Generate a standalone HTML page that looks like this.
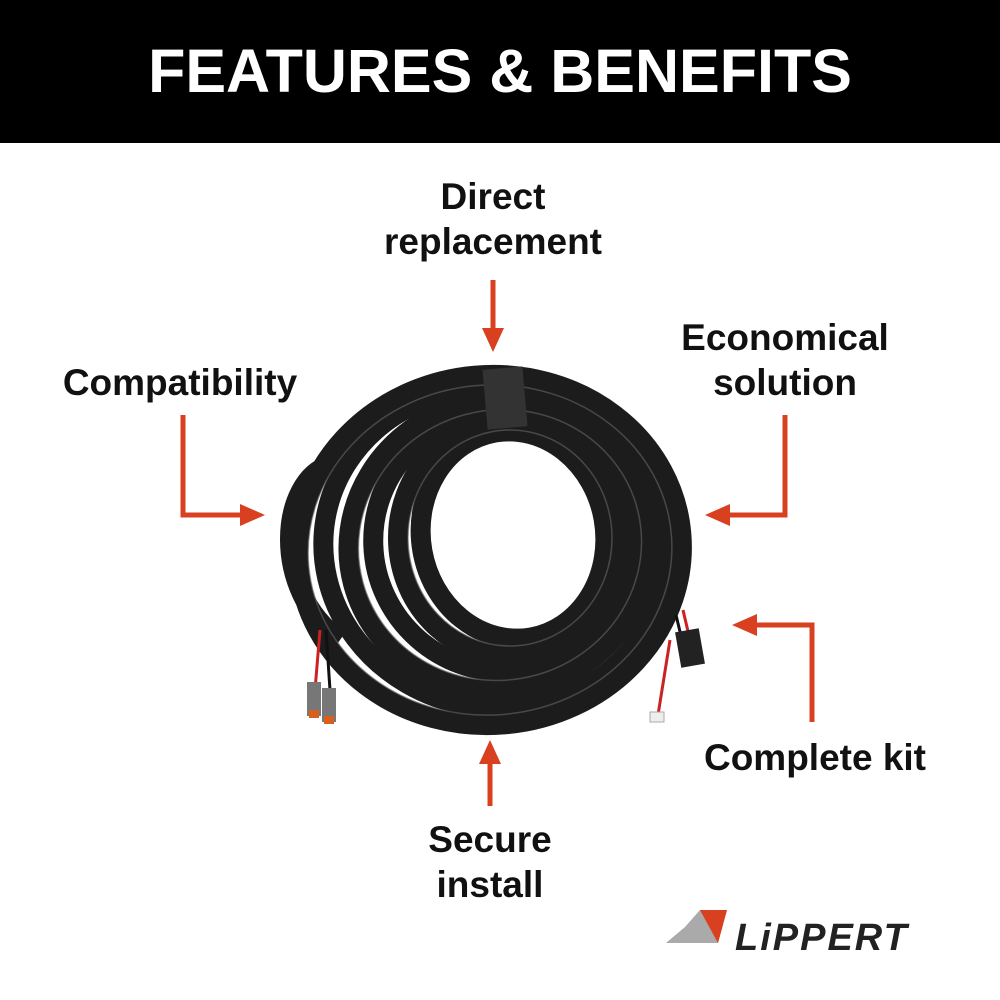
<!DOCTYPE html>
<html><head><meta charset="utf-8"><style>
body{margin:0;width:1000px;height:1000px;background:#fff;position:relative;overflow:hidden;font-family:"Liberation Sans",sans-serif}
.band{position:absolute;left:0;top:0;width:1000px;height:143px;background:#000;color:#fff;font-weight:bold;font-size:61px;text-align:center;line-height:143px}
.l{position:absolute;font-weight:bold;font-size:37px;color:#111;text-align:center;line-height:45px}
</style></head><body>
<div class="band">FEATURES &amp; BENEFITS</div>
<div class="l" style="left:373px;top:174px;width:240px">Direct<br>replacement</div>
<div class="l" style="left:30px;top:360px;width:300px">Compatibility</div>
<div class="l" style="left:650px;top:315px;width:270px">Economical<br>solution</div>
<div class="l" style="left:685px;top:735px;width:260px">Complete kit</div>
<div class="l" style="left:390px;top:817px;width:200px">Secure<br>install</div>
<svg width="1000" height="1000" style="position:absolute;left:0;top:0">
<g stroke="#d8401f" stroke-width="5" fill="none">
<path d="M183 415V515H245"/><path d="M493 280V332"/><path d="M785 415V515H725"/><path d="M812 722V625H752"/><path d="M490 760V806"/>
</g>
<g fill="#d8401f">
<path d="M265 515L240 504V526Z"/><path d="M493 352L482 328H504Z"/><path d="M705 515L730 504V526Z"/><path d="M732 625L757 614V636Z"/><path d="M490 740L479 764H501Z"/>
</g>
<g fill="none" stroke="#1c1c1c" stroke-width="20">
<ellipse cx="490" cy="550" rx="192" ry="175" transform="rotate(-5 490 550)"/>
<ellipse cx="495" cy="548" rx="172" ry="160" transform="rotate(10 495 548)"/>
<ellipse cx="500" cy="545" rx="152" ry="145" transform="rotate(-15 500 545)"/>
<ellipse cx="505" cy="542" rx="132" ry="130" transform="rotate(20 505 542)"/>
<ellipse cx="510" cy="538" rx="112" ry="118"/>
<ellipse cx="513" cy="535" rx="92" ry="104" transform="rotate(-10 513 535)"/>
<path d="M340 640C270 590 280 480 330 465"/>
</g>
<g fill="none" stroke="#666" stroke-width="1.5" opacity="0.6">
<ellipse cx="490" cy="550" rx="182" ry="165" transform="rotate(-5 490 550)"/>
<ellipse cx="500" cy="545" rx="142" ry="135" transform="rotate(-15 500 545)"/>
<ellipse cx="510" cy="538" rx="102" ry="108"/>
</g>
<rect x="485" y="368" width="40" height="60" fill="#333" transform="rotate(-5 505 398)"/>
<g stroke-width="3"><path d="M320 630L315 690" stroke="#c22"/><path d="M326 630L330 690" stroke="#111"/>
<path d="M683 610L690 640" stroke="#c22"/><path d="M676 615L682 640" stroke="#111"/>
<path d="M670 640L658 715" stroke="#c22"/></g>
<rect x="307" y="682" width="14" height="34" fill="#777"/><rect x="322" y="688" width="14" height="34" fill="#777"/>
<rect x="309" y="710" width="10" height="8" fill="#d8601f"/><rect x="324" y="716" width="10" height="8" fill="#d8601f"/>
<rect x="678" y="630" width="24" height="36" fill="#222" transform="rotate(-10 690 648)"/>
<rect x="650" y="712" width="14" height="10" fill="#eee" stroke="#aaa"/>
<path d="M685 927L700 910H727L718 943H666Z" fill="#aaa"/><path d="M700 910H727L718 943Z" fill="#d8401f"/>
<text x="735" y="950" font-family="Liberation Sans" font-weight="bold" font-style="italic" font-size="38" fill="#222" letter-spacing="2">LiPPERT</text>
</svg>
</body></html>
